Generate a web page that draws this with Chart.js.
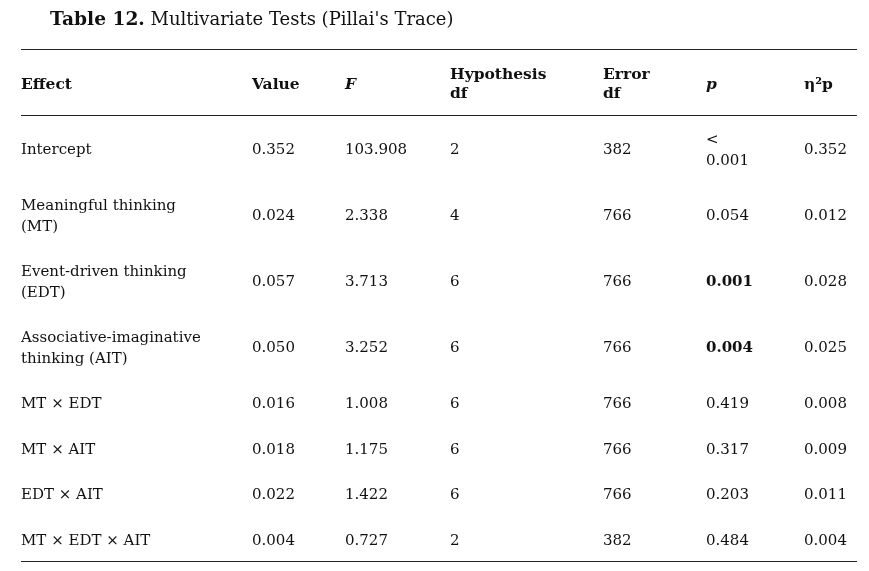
<!DOCTYPE html>
<html lang="en">
<head>
  <meta charset="UTF-8" />
  <title>Multivariate Tests (Pillai's Trace)</title>
  <script src="https://cdn.jsdelivr.net/npm/chart.js"></script>
  <style>
    html, body {
      margin: 0;
      padding: 0;
      background: #fff;
      overflow: hidden;
    }
    canvas { display: block; }
  </style>
</head>
<body>
  <canvas id="tableChart" width="869" height="571"></canvas>
  <script>
    // table content
    const titleBold = "Table 12.";
    const titleText = "Multivariate Tests (Pillai's Trace)";
    const headers = ["Effect", "Value", "F", "Hypothesis\ndf", "Error\ndf", "p", "η²p"];
    const effects = [
      "Intercept",
      "Meaningful thinking\n(MT)",
      "Event-driven thinking\n(EDT)",
      "Associative-imaginative\nthinking (AIT)",
      "MT × EDT",
      "MT × AIT",
      "EDT × AIT",
      "MT × EDT × AIT"
    ];
    const values = [0.352, 0.024, 0.057, 0.050, 0.016, 0.018, 0.022, 0.004];
    const fValues = [103.908, 2.338, 3.713, 3.252, 1.008, 1.175, 1.422, 0.727];
    const hypothesisDf = [2, 4, 6, 6, 6, 6, 6, 2];
    const errorDf = [382, 766, 766, 766, 766, 766, 766, 382];
    const pValues = ["<\n0.001", "0.054", "0.001", "0.004", "0.419", "0.317", "0.203", "0.484"];
    const partialEta = [0.352, 0.012, 0.028, 0.025, 0.008, 0.009, 0.011, 0.004];

    // styling / layout
    const colX = [21, 252, 345, 450, 603, 706, 804];
    const italicHeaders = [2, 5];
    const boldPRows = [2, 3];
    const tableLeft = 21, tableRight = 857, tableTop = 49;
    const lineH = 20.5, padY = 12.5, textShift = 2.5;
    const FONT = '"DejaVu Serif", "Liberation Serif", serif';
    const SIZE = 15;
    const INK = '#111';

    const rows = effects.map((e, i) => [
      e,
      values[i].toFixed(3),
      fValues[i].toFixed(3),
      String(hypothesisDf[i]),
      String(errorDf[i]),
      pValues[i],
      partialEta[i].toFixed(3)
    ]);

    const tablePlugin = {
      id: 'tableText',
      afterDraw(chart) {
        const ctx = chart.ctx;
        const x = chart.scales.x, y = chart.scales.y;
        ctx.save();
        ctx.fillStyle = INK;
        ctx.textAlign = 'left';

        // title
        ctx.textBaseline = 'alphabetic';
        ctx.font = 'bold 18.6px ' + FONT;
        const tx = x.getPixelForValue(50);
        ctx.fillText(titleBold, tx, y.getPixelForValue(24.5));
        const bw = ctx.measureText(titleBold).width;
        ctx.font = '18px ' + FONT;
        ctx.fillText(' ' + titleText, tx + bw, y.getPixelForValue(24.5));
        ctx.textBaseline = 'middle';

        function rule(v) {
          ctx.strokeStyle = '#222';
          ctx.lineWidth = 1;
          const py = Math.round(y.getPixelForValue(v)) + 0.5;
          ctx.beginPath();
          ctx.moveTo(x.getPixelForValue(tableLeft), py);
          ctx.lineTo(x.getPixelForValue(tableRight), py);
          ctx.stroke();
        }

        function drawRow(cells, top, fontFor, lh) {
          const n = Math.max(...cells.map(c => c.split('\n').length));
          const h = padY * 2 + lineH * n;
          const center = top + h / 2 + textShift;
          cells.forEach((c, j) => {
            const lines = c.split('\n');
            ctx.font = fontFor(j);
            const first = center - (lines.length - 1) * lh / 2;
            lines.forEach((ln, k) => {
              ctx.fillText(ln, x.getPixelForValue(colX[j]), y.getPixelForValue(first + k * lh));
            });
          });
          return top + h;
        }

        rule(tableTop);
        let top = drawRow(headers, tableTop, j =>
          (italicHeaders.includes(j) ? 'italic bold ' : 'bold ') + '15.5px ' + FONT, 19);
        rule(top);
        rows.forEach((r, i) => {
          top = drawRow(r, top, j =>
            (j === 5 && boldPRows.includes(i) ? 'bold ' : '') + SIZE + 'px ' + FONT, 20.5);
        });
        rule(top);
        ctx.restore();
      }
    };

    new Chart(document.getElementById('tableChart'), {
      type: 'scatter',
      data: { datasets: [{ data: [] }] },
      options: {
        responsive: false,
        animation: false,
        layout: { padding: 0 },
        plugins: { legend: { display: false }, tooltip: { enabled: false } },
        scales: {
          x: { type: 'linear', min: 0, max: 869, display: false },
          y: { type: 'linear', min: 0, max: 571, reverse: true, display: false }
        }
      },
      plugins: [tablePlugin]
    });
  </script>
</body>
</html>
